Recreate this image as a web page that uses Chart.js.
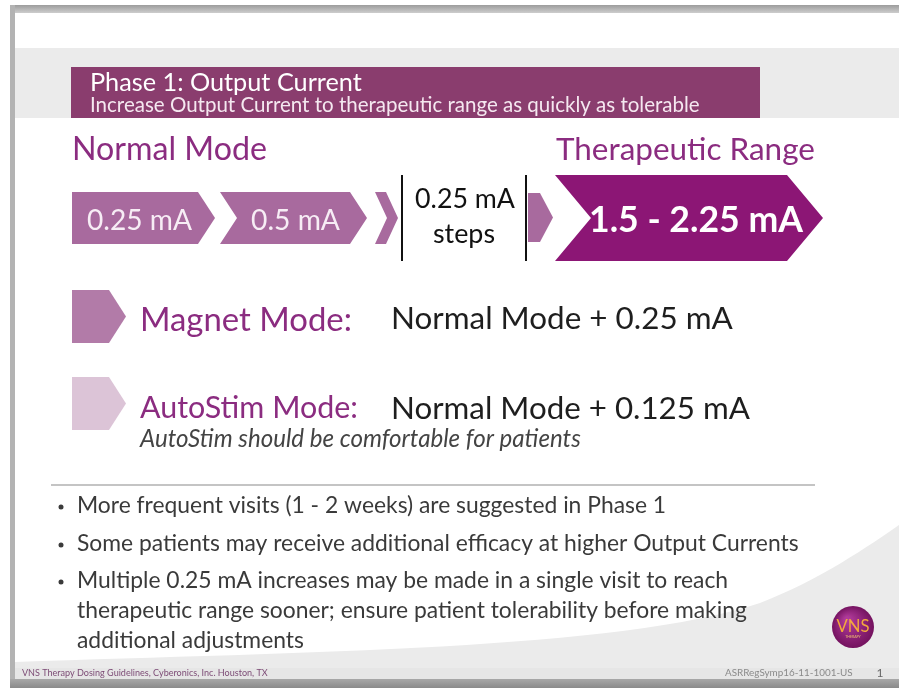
<!DOCTYPE html>
<html>
<head>
<meta charset="utf-8">
<script src="https://cdn.jsdelivr.net/npm/chart.js@4.4.1/dist/chart.umd.min.js"></script>
<style>
html,body{margin:0;padding:0;background:#fff;overflow:hidden}
canvas{display:block}
</style>
</head>
<body>
<canvas id="c" width="899" height="688"></canvas>
<script>
// ---------------- data ----------------
const titleText = 'Phase 1: Output Current';
const subtitleText = 'Increase Output Current to therapeutic range as quickly as tolerable';
const headings = ['Normal Mode', 'Therapeutic Range'];
const normalSteps = ['0.25 mA', '0.5 mA'];
const stepNote = ['0.25 mA', 'steps'];
const therapeuticRange = '1.5 - 2.25 mA';
const modeNames = ['Magnet Mode:', 'AutoStim Mode:'];
const modeRules = ['Normal Mode + 0.25 mA', 'Normal Mode + 0.125 mA'];
const autoStimNote = 'AutoStim should be comfortable for patients';
const bullets = [
  '\u2022More frequent visits (1 - 2 weeks) are suggested in Phase 1',
  '\u2022Some patients may receive additional efficacy at higher Output Currents',
  '\u2022Multiple 0.25 mA increases may be made in a single visit to reach',
  'therapeutic range sooner; ensure patient tolerability before making',
  'additional adjustments'
];
const footerLeft = 'VNS Therapy Dosing Guidelines, Cyberonics, Inc. Houston, TX';
const footerCode = 'ASRRegSymp16-11-1001-US';
const pageNumber = '1';

// ---------------- layout (slide units = px) ----------------
const FONT = 'Lato, "Open Sans", sans-serif';
const PURPLE_TEXT = '#8b2c80';
const layout = {
  chevrons: [
    {span: [72, 215],  row: 218,   h: 52, d: 17, notch: false, color: '#a86a9e', label: 0, lx: 87,  lw: 105, lb: 230},
    {span: [220, 367], row: 218,   h: 52, d: 17, notch: true,  color: '#a86a9e', label: 1, lx: 251, lw: 89,  lb: 230},
    {span: [375, 398], row: 218,   h: 52, d: 12, notch: true,  color: '#a86a9e'},
    {span: [528, 553], row: 217.5, h: 49, d: 13, notch: false, color: '#a86a9e'},
    {span: [555, 823], row: 218,   h: 86, d: 36, notch: true,  color: '#8c1675', big: true, lx: 589, lw: 214, lb: 232},
    {span: [72, 126],  row: 316.5, h: 53, d: 17, notch: false, color: '#b27ba8'},
    {span: [72, 126],  row: 403.5, h: 53, d: 17, notch: false, color: '#dcc4d7'}
  ]
};

// ---------------- helpers ----------------
function fitFont(ctx, txt, w, weight, style, base) {
  ctx.font = `${style} ${weight} ${base}px ${FONT}`;
  const m = ctx.measureText(txt).width;
  return base * w / m;
}
function drawFit(ctx, txt, x, y, w, o) {
  o = o || {};
  const weight = o.weight || 'normal', style = o.style || 'normal';
  const s = o.size || fitFont(ctx, txt, w, weight, style, 20);
  ctx.font = `${style} ${weight} ${s}px ${FONT}`;
  ctx.fillStyle = o.color || '#000';
  ctx.textAlign = o.align || 'left';
  ctx.textBaseline = 'alphabetic';
  ctx.fillText(txt, x, y);
  return s;
}

// ---------------- background plugin ----------------
const slideBackground = {
  id: 'slideBackground',
  beforeDraw(chart) {
    const ctx = chart.ctx;
    const X = v => chart.scales.x.getPixelForValue(v);
    const Y = v => chart.scales.y.getPixelForValue(v);
    ctx.save();
    ctx.fillStyle = '#fff';
    ctx.fillRect(0, 0, chart.width, chart.height);
    // bottom swoosh
    ctx.fillStyle = '#ebebeb';
    ctx.beginPath();
    ctx.moveTo(X(15), Y(662));
    ctx.bezierCurveTo(X(300), Y(652), X(620), Y(650), X(760), Y(603));
    ctx.bezierCurveTo(X(820), Y(580), X(870), Y(545), X(899), Y(525));
    ctx.lineTo(X(899), Y(680));
    ctx.lineTo(X(15), Y(680));
    ctx.closePath();
    ctx.fill();
    ctx.fillStyle = '#e6e6e6';
    ctx.fillRect(X(15), Y(668), X(899) - X(15), Y(680) - Y(668));
    // header band
    ctx.fillStyle = '#ebebeb';
    ctx.fillRect(X(15), Y(48), X(899) - X(15), Y(118) - Y(48));
    // frame
    let g = ctx.createLinearGradient(0, Y(5), 0, Y(13));
    g.addColorStop(0, '#9c9c9c'); g.addColorStop(1, '#cdcdcd');
    ctx.fillStyle = g;
    ctx.fillRect(X(10), Y(5), X(899) - X(10), Y(13) - Y(5));
    ctx.fillStyle = '#b3b3b3';
    ctx.fillRect(X(10), Y(5), X(15) - X(10), Y(688) - Y(5));
    g = ctx.createLinearGradient(0, Y(679), 0, Y(688));
    g.addColorStop(0, '#a8a8a8'); g.addColorStop(1, '#8a8a8a');
    ctx.fillStyle = g;
    ctx.fillRect(X(10), Y(679), X(899) - X(10), Y(688) - Y(679));
    // title bar
    ctx.fillStyle = '#8a3d6e';
    ctx.fillRect(X(71), Y(67), X(760) - X(71), Y(118) - Y(67));
    ctx.restore();
  }
};

// ---------------- chevron plugin (draws bar elements as chevrons) ----------------
const chevronPlugin = {
  id: 'chevrons',
  beforeDatasetDraw(chart, args) {
    const ctx = chart.ctx;
    const ds = chart.data.datasets[args.index];
    const X = v => chart.scales.x.getPixelForValue(v);
    const Y = v => chart.scales.y.getPixelForValue(v);
    ctx.save();
    args.meta.data.forEach((el, i) => {
      const c = ds.chev[i];
      const p = el.getProps(['x', 'y', 'base', 'height'], true);
      const left = Math.min(p.x, p.base), right = Math.max(p.x, p.base);
      const top = p.y - p.height / 2, bot = p.y + p.height / 2;
      const d = c.d;
      ctx.beginPath();
      ctx.moveTo(left, top);
      ctx.lineTo(right - d, top);
      ctx.lineTo(right, p.y);
      ctx.lineTo(right - d, bot);
      ctx.lineTo(left, bot);
      if (c.notch) ctx.lineTo(left + d, p.y);
      ctx.closePath();
      ctx.fillStyle = c.color;
      ctx.fill();
      if (c.label !== undefined) {
        drawFit(ctx, normalSteps[c.label], X(c.lx), Y(c.lb), X(c.lx + c.lw) - X(c.lx), {color: '#f7edf5'});
      }
      if (c.big) {
        drawFit(ctx, therapeuticRange, X(c.lx), Y(c.lb), X(c.lx + c.lw) - X(c.lx), {color: '#ffffff', weight: 'bold'});
      }
    });
    ctx.restore();
    return false;
  }
};

// ---------------- text plugin ----------------
const slideText = {
  id: 'slideText',
  afterDraw(chart) {
    const ctx = chart.ctx;
    const X = v => chart.scales.x.getPixelForValue(v);
    const Y = v => chart.scales.y.getPixelForValue(v);
    const W = (a, w) => X(a + w) - X(a);
    ctx.save();
    drawFit(ctx, titleText, X(90), Y(91), W(90, 272), {color: '#ffffff'});
    drawFit(ctx, subtitleText, X(90), Y(112), W(90, 610), {color: '#f5e8f0'});
    drawFit(ctx, headings[0], X(72), Y(160), W(72, 195), {color: PURPLE_TEXT});
    drawFit(ctx, headings[1], X(556), Y(160), W(556, 259), {color: PURPLE_TEXT});
    ctx.strokeStyle = '#111';
    ctx.lineWidth = 2;
    [402, 526].forEach(v => {
      ctx.beginPath();
      ctx.moveTo(X(v), Y(175));
      ctx.lineTo(X(v), Y(261));
      ctx.stroke();
    });
    drawFit(ctx, stepNote[0], X(465), Y(208), W(415, 100), {color: '#111', align: 'center'});
    drawFit(ctx, stepNote[1], X(464), Y(243), W(433, 62), {color: '#111', align: 'center'});
    drawFit(ctx, modeNames[0], X(140), Y(331), W(140, 212), {color: PURPLE_TEXT});
    drawFit(ctx, modeRules[0], X(391), Y(329), W(391, 342), {color: '#1e1e1e'});
    drawFit(ctx, modeNames[1], X(140), Y(418), W(140, 218), {color: PURPLE_TEXT});
    drawFit(ctx, modeRules[1], X(391), Y(419), W(391, 359), {color: '#1e1e1e'});
    drawFit(ctx, autoStimNote, X(140), Y(447), W(140, 441), {color: '#444', style: 'italic'});
    ctx.strokeStyle = '#c4c4c4';
    ctx.lineWidth = 2;
    ctx.beginPath();
    ctx.moveTo(X(51), Y(485));
    ctx.lineTo(X(815), Y(485));
    ctx.stroke();
    const lines = bullets.map(b => b.replace('\u2022', ''));
    const size = fitFont(ctx, lines[1], W(77, 722), 'normal', 'normal', 20);
    const baselines = [513, 551, 588, 618, 648];
    lines.forEach((t, i) => {
      drawFit(ctx, t, X(77), Y(baselines[i]), 0, {color: '#3a3a3a', size: size});
      if (bullets[i].startsWith('\u2022')) {
        ctx.beginPath();
        ctx.fillStyle = '#3a3a3a';
        ctx.arc(X(61), Y(baselines[i] - 6), 2.5, 0, Math.PI * 2);
        ctx.fill();
      }
    });
    drawFit(ctx, footerLeft, X(22), Y(676), W(22, 246), {color: '#7d4c76'});
    drawFit(ctx, footerCode, X(725), Y(676), W(725, 128), {color: '#8a8a8a'});
    drawFit(ctx, pageNumber, X(880), Y(677), 0, {color: '#666', size: 12, align: 'center'});
    const cx = X(853), cy = Y(627), r = 21;
    const g = ctx.createRadialGradient(cx - 6, cy - 8, 2, cx, cy, r);
    g.addColorStop(0, '#b03a9a'); g.addColorStop(1, '#74125f');
    ctx.fillStyle = g;
    ctx.beginPath(); ctx.arc(cx, cy, r, 0, Math.PI * 2); ctx.fill();
    const vs = fitFont(ctx, 'VNS', 33, 'normal', 'normal', 20);
    drawFit(ctx, 'VNS', cx, cy + 5, 0, {color: '#f3a93c', size: vs, align: 'center'});
    drawFit(ctx, 'THERAPY', cx, cy + 11, 0, {color: '#f0c070', size: 3.5, align: 'center'});
    ctx.restore();
  }
};

// ---------------- chart: chevrons as floating horizontal bars ----------------
const groups = {};
layout.chevrons.forEach(c => {
  const k = String(c.h);
  if (!groups[k]) groups[k] = {label: 'chevrons ' + k, data: [], chev: [], backgroundColor: [], barThickness: c.h, grouped: false};
  groups[k].data.push({x: c.span, y: c.row});
  groups[k].chev.push(c);
  groups[k].backgroundColor.push(c.color);
});

new Chart(document.getElementById('c'), {
  type: 'bar',
  data: {datasets: Object.values(groups)},
  options: {
    indexAxis: 'y',
    responsive: false,
    animation: false,
    layout: {padding: 0},
    scales: {
      x: {type: 'linear', min: 0, max: 899, display: false, offset: false},
      y: {type: 'linear', min: 0, max: 688, reverse: true, display: false, offset: false}
    },
    plugins: {legend: {display: false}, tooltip: {enabled: false}}
  },
  plugins: [slideBackground, chevronPlugin, slideText]
});
</script>
</body>
</html>
